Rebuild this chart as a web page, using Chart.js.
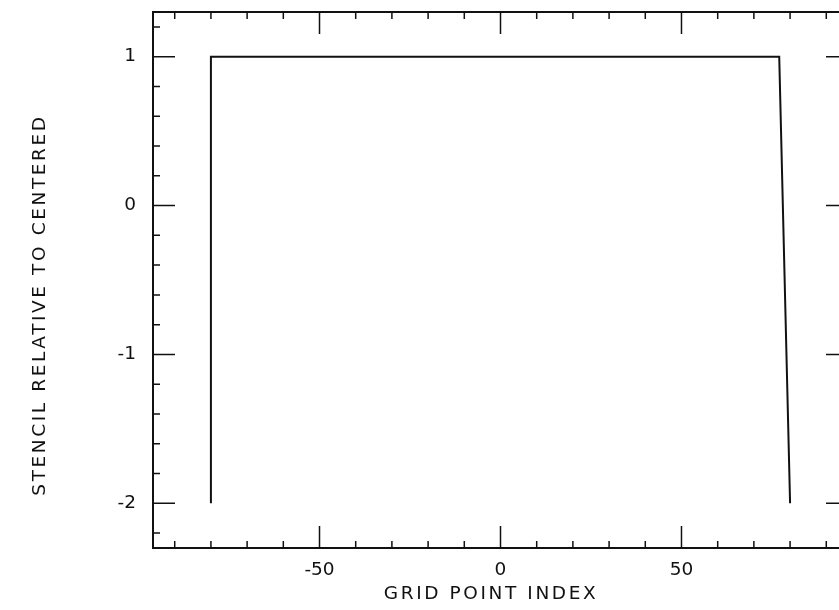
<!DOCTYPE html>
<html>
<head>
<meta charset="utf-8">
<script src="https://cdn.jsdelivr.net/npm/chart.js@4"></script>
<style>
  html, body { margin: 0; padding: 0; background: #fff; overflow: hidden; }
  #wrap { width: 880px; height: 610px; }
</style>
</head>
<body>
<div id="wrap"><canvas id="myChart" width="880" height="610"></canvas></div>
<script>
// stencil outline: grid index vs. relative offset
const stencilX = [-80, -80, 77, 80]
const stencilY = [-2, 1, 1, -2]

const xTicks = [-50, 0, 50]
const yTicks = [-2, -1, 0, 1]
const xMinor = [-90, -80, -70, -60, -40, -30, -20, -10, 10, 20, 30, 40, 60, 70, 80, 90]
const yMinor = [-2.2, -1.8, -1.6, -1.4, -1.2, -0.8, -0.6, -0.4, -0.2, 0.2, 0.4, 0.6, 0.8, 1.2]

const xTitle = 'GRID POINT INDEX'
const yTitle = 'STENCIL RELATIVE TO CENTERED'

const ink = '#111'
const fontFamily = '"DejaVu Sans", sans-serif'

// box frame with inward ticks on all four sides, plus the axis titles
const framePlugin = {
  id: 'frame',
  afterDraw(chart) {
    const { ctx, chartArea: a, scales: { x, y } } = chart
    ctx.save()
    ctx.strokeStyle = ink
    ctx.lineWidth = 2
    ctx.strokeRect(a.left, a.top, a.right - a.left, a.bottom - a.top)

    ctx.lineWidth = 1.5
    ctx.beginPath()
    const xTick = (v, len) => {
      const px = x.getPixelForValue(v)
      ctx.moveTo(px, a.bottom); ctx.lineTo(px, a.bottom - len)
      ctx.moveTo(px, a.top); ctx.lineTo(px, a.top + len)
    }
    const yTick = (v, len) => {
      const py = y.getPixelForValue(v)
      ctx.moveTo(a.left, py); ctx.lineTo(a.left + len, py)
      ctx.moveTo(a.right, py); ctx.lineTo(a.right - len, py)
    }
    xMinor.forEach(v => xTick(v, 7))
    xTicks.forEach(v => xTick(v, 22))
    yMinor.forEach(v => yTick(v, 7))
    yTicks.forEach(v => yTick(v, 22))
    ctx.stroke()

    ctx.fillStyle = ink
    ctx.font = '18.5px ' + fontFamily
    ctx.letterSpacing = '2.6px'
    ctx.textAlign = 'center'
    ctx.textBaseline = 'alphabetic'
    ctx.fillText(xTitle, 491, 599)
    ctx.translate(45, 305)
    ctx.rotate(-Math.PI / 2)
    ctx.fillText(yTitle, 0, 0)
    ctx.restore()
  }
}

const tickFont = { family: fontFamily, size: 18.5 }

new Chart(document.getElementById('myChart'), {
  type: 'scatter',
  data: {
    datasets: [{
      data: stencilX.map((v, i) => ({ x: v, y: stencilY[i] })),
      showLine: true,
      borderColor: ink,
      borderWidth: 2,
      pointRadius: 0,
      tension: 0,
      fill: false
    }]
  },
  options: {
    responsive: false,
    animation: false,
    layout: { padding: { left: 0, top: 12, right: 32, bottom: 0 } },
    plugins: { legend: { display: false }, tooltip: { enabled: false } },
    scales: {
      x: {
        type: 'linear',
        min: -96,
        max: 96,
        afterFit: s => { s.height = 62; s.paddingLeft = 0; s.paddingRight = 0 },
        afterBuildTicks: s => { s.ticks = xTicks.map(v => ({ value: v })) },
        grid: { display: false, drawTicks: false },
        border: { display: false },
        ticks: { color: ink, font: tickFont, padding: 11, maxRotation: 0 }
      },
      y: {
        type: 'linear',
        min: -2.3,
        max: 1.3,
        afterFit: s => { s.width = 153; s.paddingTop = 0; s.paddingBottom = 0 },
        afterBuildTicks: s => { s.ticks = yTicks.map(v => ({ value: v })) },
        grid: { display: false, drawTicks: false },
        border: { display: false },
        ticks: { color: ink, font: tickFont, padding: 17 }
      }
    }
  },
  plugins: [framePlugin]
})
</script>
</body>
</html>
